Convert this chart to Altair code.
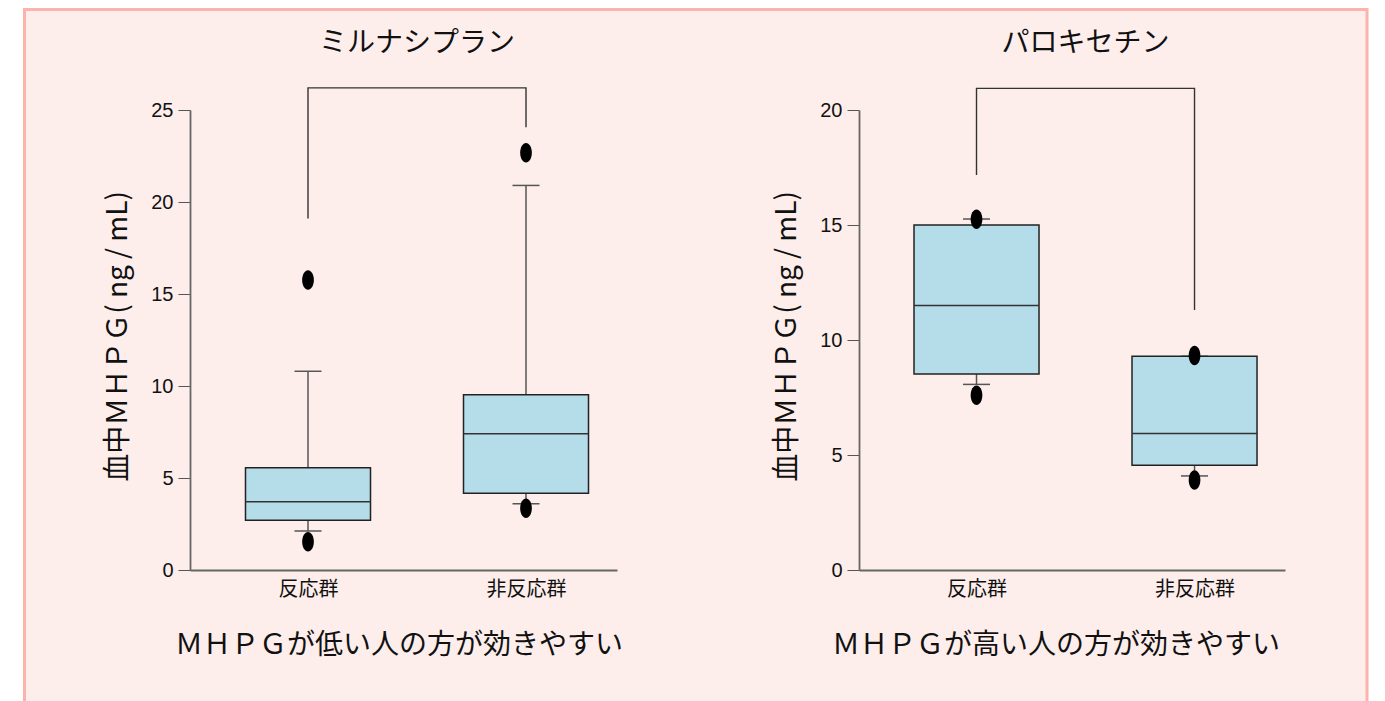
import altair as alt
import pandas as pd

# ---------------- data ----------------
categories = ["反応群", "非反応群"]
cat_pos = [1, 2]

titles = ["ミルナシプラン", "パロキセチン"]
captions = ["ＭＨＰＧが低い人の方が効きやすい", "ＭＨＰＧが高い人の方が効きやすい"]
y_title = "血中ＭＨＰＧ( ng / mL)"

# Milnacipran panel
mil_q1 = [2.70, 4.17]
mil_median = [3.71, 7.41]
mil_q3 = [5.56, 9.53]
mil_whisker_low = [2.12, 3.60]
mil_whisker_high = [10.8, 20.9]
mil_outlier_low = [1.54, 3.35]
mil_outlier_high = [15.76, 22.68]
mil_bracket = [19.1, 26.2, 24.06]   # left end, top, right end
mil_ticks = [0, 5, 10, 15, 20, 25]

# Paroxetine panel
par_q1 = [8.52, 4.55]
par_median = [11.5, 5.93]
par_q3 = [15.0, 9.29]
par_whisker_low = [8.07, 4.09]
par_whisker_high = [15.26, 9.29]
par_outlier_low = [7.6, 3.91]
par_outlier_high = [15.25, 9.33]
par_bracket = [17.17, 20.94, 11.3]
par_ticks = [0, 5, 10, 15, 20]

FONT_JP = "Noto Sans CJK JP"
FONT_NUM = "Liberation Sans"
BOX_HALF = 0.2867
CAP_HALF = 0.062
ELLIPSE = "M0,-1 A0.6,1 0 1,1 0,1 A0.6,1 0 1,1 0,-1 Z"


def panel(q1, med, q3, wl, wh, ol, oh, bracket, ticks, title, caption,
          width, xdom, caption_x, frame=False):
    box_df = pd.DataFrame({"cat": categories, "pos": cat_pos, "q1": q1, "med": med,
                           "q3": q3, "wl": wl, "wh": wh})
    out_df = pd.DataFrame({"pos": cat_pos + cat_pos, "v": ol + oh})
    br_df = pd.DataFrame({"x": [cat_pos[0], cat_pos[0], cat_pos[1], cat_pos[1]],
                          "y": [bracket[0], bracket[1], bracket[1], bracket[2]],
                          "o": [0, 1, 2, 3]})
    title_df = pd.DataFrame({"t": [title], "x": [sum(cat_pos) / 2]})
    cap_df = pd.DataFrame({"t": [caption]})

    label_expr = f"datum.value == {cat_pos[0]} ? '{categories[0]}' : '{categories[1]}'"
    xs = alt.Scale(domain=xdom, nice=False, zero=False)
    ys = alt.Scale(domain=[ticks[0], ticks[-1]], nice=False, zero=False)
    xa = alt.Axis(values=cat_pos, labelExpr=label_expr, ticks=False, grid=False,
                  domainColor="#666", domainWidth=1.8, labelFont=FONT_JP,
                  labelFontSize=20, labelColor="#111", labelPadding=9,
                  title=None, zindex=1, labelFlush=False)
    ya = alt.Axis(values=ticks, format="d", tickSize=12, tickColor="#555", tickWidth=1,
                  domainColor="#666", domainWidth=1.8, labelFont=FONT_NUM,
                  labelFontSize=20, labelColor="#111", labelPadding=5, grid=False,
                  title=y_title, titleFont=FONT_JP, titleFontSize=28,
                  titleFontWeight="normal", titleColor="#111", titleX=-58,
                  titleY=226, titleAngle=270, titleAlign="center",
                  titleBaseline="bottom", zindex=1)

    def X(f):
        return alt.X(f, scale=xs, axis=xa)

    def Y(f):
        return alt.Y(f, scale=ys, axis=ya)

    base = alt.Chart(box_df).transform_calculate(
        bl=f"datum.pos - {BOX_HALF}", br=f"datum.pos + {BOX_HALF}",
        cl=f"datum.pos - {CAP_HALF}", cr=f"datum.pos + {CAP_HALF}")

    layers = []
    if frame:
        layers.append(alt.Chart(pd.DataFrame({"a": [0]})).mark_rect(
            fill="#fdeeec", stroke="#fbb3ae", strokeWidth=3).encode(
            x=alt.value(-165.5), x2=alt.value(1177),
            y=alt.value(-100.5), y2=alt.value(1000)))

    whisk_lo = base.mark_rule(color="#555", strokeWidth=1.5).encode(
        x=X("pos:Q"), y=Y("wl:Q"), y2="q1:Q")
    whisk_hi = base.mark_rule(color="#555", strokeWidth=1.5).encode(
        x=X("pos:Q"), y=Y("q3:Q"), y2="wh:Q")
    cap_lo = base.mark_rule(color="#555", strokeWidth=1.5).encode(
        x=X("cl:Q"), x2="cr:Q", y=Y("wl:Q"))
    cap_hi = base.mark_rule(color="#555", strokeWidth=1.5).encode(
        x=X("cl:Q"), x2="cr:Q", y=Y("wh:Q"))
    box = base.mark_rect(fill="#b4dce9", stroke="#222", strokeWidth=1.5).encode(
        x=X("bl:Q"), x2="br:Q", y=Y("q1:Q"), y2="q3:Q")
    median = base.mark_rule(color="#333", strokeWidth=1.5).encode(
        x=X("bl:Q"), x2="br:Q", y=Y("med:Q"))
    outl = alt.Chart(out_df).mark_point(
        shape=ELLIPSE, filled=True, size=380, color="black", opacity=1,
        strokeWidth=0).encode(x=X("pos:Q"), y=Y("v:Q"))
    brk = alt.Chart(br_df).mark_line(color="#333", strokeWidth=1.4, clip=False).encode(
        x=X("x:Q"), y=Y("y:Q"), order="o:Q")
    ttl = alt.Chart(title_df).mark_text(
        font=FONT_JP, fontSize=28, color="#111", baseline="middle", align="center"
    ).encode(x=X("x:Q"), y=alt.value(-66), text="t:N")
    cap = alt.Chart(cap_df).mark_text(
        font=FONT_JP, fontSize=28, color="#111", baseline="middle", align="center"
    ).encode(x=alt.value(caption_x), y=alt.value(536), text="t:N")

    layers += [whisk_lo, whisk_hi, cap_lo, cap_hi, box, median, outl, brk, ttl, cap]
    return alt.layer(*layers).properties(width=width, height=460)


left = panel(mil_q1, mil_median, mil_q3, mil_whisker_low, mil_whisker_high,
             mil_outlier_low, mil_outlier_high, mil_bracket, mil_ticks,
             titles[0], captions[0], 427, [0.4587, 2.4174], 209, frame=True)
right = panel(par_q1, par_median, par_q3, par_whisker_low, par_whisker_high,
              par_outlier_low, par_outlier_high, par_bracket, par_ticks,
              titles[1], captions[1], 426, [0.461, 2.415], 197)

chart = alt.hconcat(left, right, spacing=242, bounds="flush").properties(
    background="white",
    padding={"left": 15, "top": 0, "right": 0, "bottom": 0},
    autosize=alt.AutoSizeParams(type="pad"),
).configure_view(stroke=None)

chart.save("out.html", embed_options={"renderer": "svg", "actions": False})
